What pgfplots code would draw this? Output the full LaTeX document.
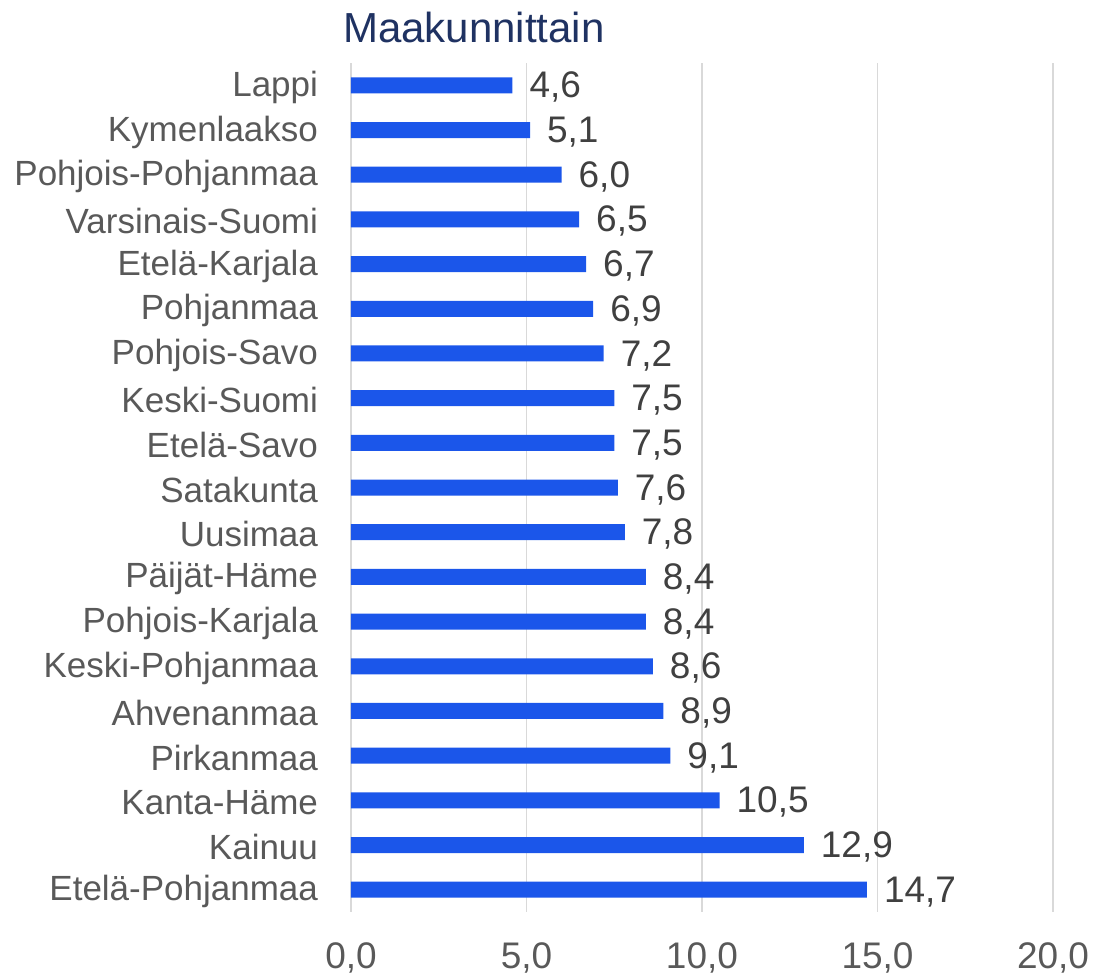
\documentclass[border=0pt]{standalone}
\usepackage{pgfplots}
\pgfplotsset{compat=1.18}
\usepackage{fontspec}
\setmainfont{Liberation Sans}
\definecolor{barBlue}{HTML}{1B56EA}
\definecolor{titleNavy}{HTML}{1F3262}
\definecolor{labGray}{HTML}{595959}
\definecolor{valGray}{HTML}{404040}
\definecolor{gridGray}{HTML}{D9D9D9}

\pgfplotstableread[col sep=comma]{
idx,val
0,4.6
1,5.1
2,6.0
3,6.5
4,6.7
5,6.9
6,7.2
7,7.5
8,7.5
9,7.6
10,7.8
11,8.4
12,8.4
13,8.6
14,8.9
15,9.1
16,10.5
17,12.9
18,14.7
}\regions

\begin{document}
\begin{tikzpicture}
\begin{axis}[
  scale only axis,
  width=351pt, height=424.5pt,
  xbar, bar width=8pt,
  xmin=0, xmax=20, ymin=-0.5, ymax=18.5,
  y dir=reverse,
  axis line style={draw=none},
  xtick={0,5,10,15,20},
  ytick={0,...,18},
  yticklabels={Lappi,Kymenlaakso,Pohjois-Pohjanmaa,Varsinais-Suomi,Etelä-Karjala,Pohjanmaa,Pohjois-Savo,Keski-Suomi,Etelä-Savo,Satakunta,Uusimaa,Päijät-Häme,Pohjois-Karjala,Keski-Pohjanmaa,Ahvenanmaa,Pirkanmaa,Kanta-Häme,Kainuu,Etelä-Pohjanmaa},
  major tick length=0pt,
  xmajorgrids, grid style={gridGray, line width=0.9pt},
  /pgf/number format/assume math mode=true,
  xticklabel style={font=\fontsize{18.5}{22}\selectfont, text=labGray, yshift=-12pt,
    /pgf/number format/.cd, use comma, fixed, fixed zerofill, precision=1},
  yticklabel style={font=\fontsize{17.5}{20}\selectfont, text=labGray, xshift=-13pt, yshift=-1pt},
  nodes near coords,
  every node near coord/.append style={font=\fontsize{18.5}{22}\selectfont, text=valGray, xshift=5pt, yshift=-1pt,
    /pgf/number format/.cd, use comma, fixed, fixed zerofill, precision=1},
  clip=false,
]
  \addplot[fill=barBlue, draw=none] table[x=val, y=idx] {\regions};
  \coordinate (bl) at (axis description cs:0,0);
  \coordinate (tr) at (axis description cs:1,1);
  \node[text=titleNavy, font=\fontsize{21}{24}\selectfont] at (axis description cs:0.175,1) [yshift=18pt] {Maakunnittain};
\end{axis}
\pgfresetboundingbox
\path ([shift={(-175.5pt,-32pt)}]bl) rectangle ([shift={(20.5pt,31.5pt)}]tr);
\end{tikzpicture}
\end{document}
